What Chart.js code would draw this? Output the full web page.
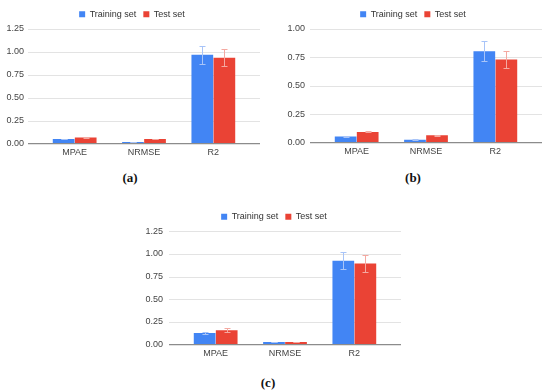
<!DOCTYPE html>
<html>
<head>
<meta charset="utf-8">
<script src="https://cdn.jsdelivr.net/npm/chart.js@4.4.0/dist/chart.umd.min.js"></script>
<style>
  html, body { margin: 0; padding: 0; background: #fff; }
  body { width: 550px; height: 392px; position: relative; overflow: hidden; }
  .box { position: absolute; }
  .cap { position: absolute; width: 40px; text-align: center; font-family: "Liberation Serif", "DejaVu Serif", serif; font-weight: bold; font-size: 13px; line-height: 14px; color: #111; }
</style>
</head>
<body>
<div class="box" style="left:0px;top:0px;width:260px;height:165px"><canvas id="chartA"></canvas></div>
<div class="box" style="left:282px;top:0px;width:260px;height:165px"><canvas id="chartB"></canvas></div>
<div class="box" style="left:140px;top:200px;width:261px;height:168px"><canvas id="chartC"></canvas></div>
<div class="cap" style="left:110px;top:171px">(a)</div>
<div class="cap" style="left:393px;top:171px">(b)</div>
<div class="cap" style="left:248px;top:376px">(c)</div>
<script>
// shared categories and legend names
var categories = ["MPAE", "NRMSE", "R2"];
var seriesNames = ["Training set", "Test set"];

// (a)
var trainA = [0.050, 0.018, 0.967];
var trainErrA = [0.004, 0.002, 0.100];
var testA = [0.066, 0.050, 0.934];
var testErrA = [0.005, 0.004, 0.095];

// (b)
var trainB = [0.053, 0.026, 0.803];
var trainErrB = [0.004, 0.002, 0.085];
var testB = [0.094, 0.065, 0.729];
var testErrB = [0.005, 0.004, 0.075];

// (c)
var trainC = [0.129, 0.030, 0.925];
var trainErrC = [0.012, 0.002, 0.095];
var testC = [0.159, 0.030, 0.896];
var testErrC = [0.022, 0.002, 0.090];

var yTicksAC = [0, 0.25, 0.5, 0.75, 1.0, 1.25];
var yTicksB = [0, 0.25, 0.5, 0.75, 1.0];

var BLUE = "#4285f4";
var RED = "#ea4335";
var BLUE_ERR = "#a8c4f8";
var RED_ERR = "#f4a9a1";
var FONT = "'Liberation Sans', Arial, sans-serif";

// gridlines a bit wider than the plot area, error bars, baseline
var sheetStyle = {
  id: "sheetStyle",
  afterLayout: function (chart) {
    // legend in the original is not centred on the canvas
    var s = chart.options.plugins.sheetStyle.legendShift || 0;
    chart.legend.left += s;
    chart.legend.right += s;
  },
  beforeDatasetsDraw: function (chart) {
    var ctx = chart.ctx, y = chart.scales.y, a = chart.chartArea;
    ctx.save();
    ctx.strokeStyle = "#e3e3e3";
    ctx.lineWidth = 1;
    y.ticks.forEach(function (t) {
      if (t.value === 0) return;
      var py = Math.round(y.getPixelForValue(t.value)) + 0.5;
      ctx.beginPath();
      ctx.moveTo(a.left - 12, py);
      ctx.lineTo(a.right + 12, py);
      ctx.stroke();
    });
    ctx.restore();
  },
  afterDatasetsDraw: function (chart) {
    var ctx = chart.ctx, y = chart.scales.y, a = chart.chartArea;
    var opts = chart.options.plugins.sheetStyle;
    ctx.save();
    chart.data.datasets.forEach(function (ds, i) {
      var meta = chart.getDatasetMeta(i);
      ctx.strokeStyle = opts.colors[i];
      ctx.lineWidth = 1;
      meta.data.forEach(function (bar, j) {
        var v = ds.data[j], e = opts.errors[i][j];
        var top = Math.round(y.getPixelForValue(v + e)) + 0.5;
        var bot = Math.round(y.getPixelForValue(v - e)) + 0.5;
        var x = Math.round(bar.x) + 0.5;
        ctx.beginPath();
        ctx.moveTo(x, top); ctx.lineTo(x, bot);
        ctx.moveTo(x - 3, top); ctx.lineTo(x + 3, top);
        ctx.moveTo(x - 3, bot); ctx.lineTo(x + 3, bot);
        ctx.stroke();
      });
    });
    var p0 = y.getPixelForValue(0);
    ctx.strokeStyle = "#8c8c8c";
    ctx.lineWidth = 1.4;
    ctx.beginPath();
    ctx.moveTo(a.left - 12, p0);
    ctx.lineTo(a.right + 12, p0);
    ctx.stroke();
    ctx.restore();
  }
};

function makeChart(id, train, trainErr, test, testErr, yMax, yTicks, padTop, yWidth, tickPad, legendShift) {
  var ctx = document.getElementById(id).getContext("2d");
  return new Chart(ctx, {
    type: "bar",
    data: {
      labels: categories,
      datasets: [
        { label: seriesNames[0], data: train, backgroundColor: BLUE, borderWidth: 0 },
        { label: seriesNames[1], data: test, backgroundColor: RED, borderWidth: 0 }
      ]
    },
    options: {
      responsive: true,
      maintainAspectRatio: false,
      animation: false,
      layout: { padding: { top: padTop, left: 0, right: 12, bottom: 0 } },
      datasets: { bar: { categoryPercentage: 0.636, barPercentage: 0.985 } },
      plugins: {
        tooltip: { enabled: false },
        legend: {
          position: "top",
          align: "center",
          labels: {
            boxWidth: 6, boxHeight: 6, padding: 7,
            color: "#333",
            font: { family: FONT, size: 9 }
          }
        },
        sheetStyle: { errors: [trainErr, testErr], colors: [BLUE_ERR, RED_ERR], legendShift: legendShift }
      },
      scales: {
        x: {
          grid: { display: false, drawTicks: false },
          border: { display: false },
          ticks: { color: "#444", padding: 4, font: { family: FONT, size: 9 } },
          afterFit: function (s) { s.height = 20; }
        },
        y: {
          min: 0, max: yMax,
          grid: { display: false, drawTicks: false },
          border: { display: false },
          afterBuildTicks: function (s) { s.ticks = yTicks.map(function (v) { return { value: v }; }); },
          ticks: {
            color: "#444", padding: tickPad,
            font: { family: FONT, size: 9 },
            callback: function (v) { return Number(v).toFixed(2); }
          },
          afterFit: function (s) { s.width = yWidth; }
        }
      }
    },
    plugins: [sheetStyle]
  });
}

makeChart("chartA", trainA, trainErrA, testA, testErrA, 1.25, yTicksAC, 2.7, 40, 16, 8);
makeChart("chartB", trainB, trainErrB, testB, testErrB, 1.0, yTicksB, 2.7, 40, 17, 7);
makeChart("chartC", trainC, trainErrC, testC, testErrC, 1.25, yTicksAC, 5.3, 41, 18, 9.5);
</script>
</body>
</html>
